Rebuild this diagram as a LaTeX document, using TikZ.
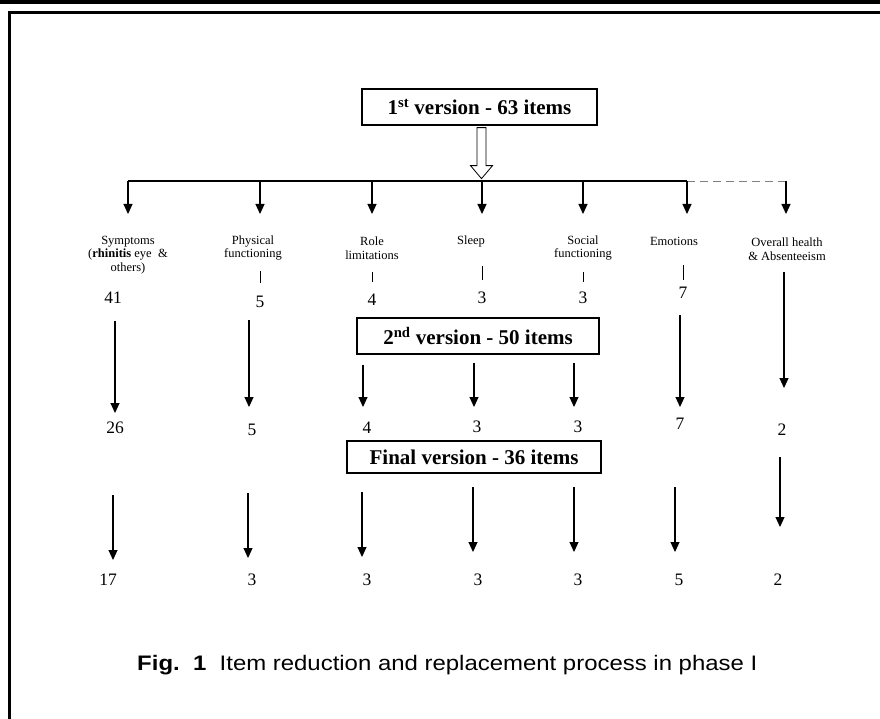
\documentclass[tikz,border=0pt]{standalone}
\usepackage{fontspec}
\setmainfont{Liberation Serif}
\newfontfamily\capfont{Liberation Sans}
\usetikzlibrary{arrows.meta,calc}
\begin{document}
\begin{tikzpicture}[x=1pt,y=-1pt,
  conn/.style={line width=1.1pt,-{Triangle[width=9pt,length=10pt]}},
  plain/.style={line width=1.1pt},
  vbox/.style={draw,line width=1.3pt,font=\fontsize{21}{23}\selectfont\bfseries,inner sep=0pt},
  lab/.style={font=\fontsize{12.5}{13.5}\selectfont,align=center,inner sep=0pt},
  num/.style={font=\fontsize{17.5}{19}\selectfont,inner sep=0pt},
  stub/.style={line width=1pt}]
\useasboundingbox (0,0) rectangle (880,719);
% frame
\fill (0,0) rectangle (880,4);
\draw[line width=3pt] (9,719) -- (9,12.5) -- (880,12.5);

% version boxes
\node[vbox,minimum width=235pt,minimum height=36pt] (b1) at (479.5,107) {1\textsuperscript{st} version - 63 items};
\node[vbox,minimum width=242pt,minimum height=36pt] (b2) at (478,336) {2\textsuperscript{nd} version - 50 items};
\node[vbox,minimum width=254pt,minimum height=32pt] (b3) at (474,457) {Final version - 36 items};

% hollow arrow
\coordinate (ha) at ($(b1.south)+(2,0)$);
\draw[line width=0.8pt,fill=white] ($(ha)+(-4.5,2)$) -- ($(ha)+(4.5,2)$) -- ($(ha)+(4.5,40)$) -- ($(ha)+(11,40)$) -- ($(ha)+(0,53)$) -- ($(ha)+(-11,40)$) -- ($(ha)+(-4.5,40)$) -- cycle;

% bus
\coordinate (busL) at (128,181);
\coordinate (busE) at (687,181);
\coordinate (busR) at (786,181);
\draw[plain] (busL) -- (busE);
\draw[line width=0.9pt,gray,dash pattern=on 8pt off 5pt] (busE) -- (busR);

% branch arrows
\foreach \x/\n in {128/1,260/2,372/3,482/4,583/5,687/6,786/7}{
  \coordinate (t\n) at (\x,181);
  \coordinate (h\n) at (\x,214);
  \draw[conn] (t\n) -- (h\n);
}

% category labels
\node[lab] (sym) at (128,255) {Symptoms\\(\textbf{rhinitis} eye \ \&\\others)};
\node[lab] (phys) at (253,248) {Physical\\functioning};
\node[lab] (role) at (372,248) {Role\\limitations};
\node[lab] (sleep) at (471,241) {Sleep};
\node[lab] (soc) at (583,248) {Social\\functioning};
\node[lab] (emo) at (674,241) {Emotions};
\node[lab] (ovr) at (787,249) {Overall health\\\& Absenteeism};

% stubs
\draw[stub] (260,271) -- (260,283);
\draw[stub] (372,272) -- (372,282);
\draw[stub] (482,266) -- (482,280);
\draw[stub] (583,272) -- (583,282);
\draw[stub] (683,265) -- (683,280);

% numbers, level 1
\node[num] (n1a) at (113,298) {41};
\node[num] (n1b) at (260,302) {5};
\node[num] (n1c) at (372,300) {4};
\node[num] (n1d) at (482,298) {3};
\node[num] (n1e) at (583,298) {3};
\node[num] (n1f) at (683,293) {7};

% numbers, level 2
\node[num] (n2a) at (115,428) {26};
\node[num] (n2b) at (252,430) {5};
\node[num] (n2c) at (367,428) {4};
\node[num] (n2d) at (477,427) {3};
\node[num] (n2e) at (578,427) {3};
\node[num] (n2f) at (680,424) {7};
\node[num] (n2g) at (782,430) {2};

% numbers, level 3
\node[num] (n3a) at (108,580) {17};
\node[num] (n3b) at (252,580) {3};
\node[num] (n3c) at (367,580) {3};
\node[num] (n3d) at (478,580) {3};
\node[num] (n3e) at (578,580) {3};
\node[num] (n3f) at (679,580) {5};
\node[num] (n3g) at (778,580) {2};

% level 2 arrows
\foreach \x/\a/\b/\n in {115/321/413/a,249/320/407/b,363/365/407/c,474/363/407/d,574/363/407/e,680/315/407/f,784/272/388/g}{
  \coordinate (p\n) at (\x,\a);
  \coordinate (q\n) at (\x,\b);
  \draw[conn] (p\n) -- (q\n);
}

% level 3 arrows
\foreach \x/\a/\b/\n in {113/495/560/a,248/493/558/b,362/492/557/c,473/487/552/d,574/487/552/e,675/487/552/f,780/457/527/g}{
  \coordinate (r\n) at (\x,\a);
  \coordinate (s\n) at (\x,\b);
  \draw[conn] (r\n) -- (s\n);
}

% caption
\node[font=\capfont\fontsize{21}{23}\selectfont,inner sep=0pt,anchor=base west,xscale=1.14] (cap) at (137,670) {\textbf{Fig.}\ \ \textbf{1}\ \ Item reduction and replacement process in phase I};
\end{tikzpicture}
\end{document}
